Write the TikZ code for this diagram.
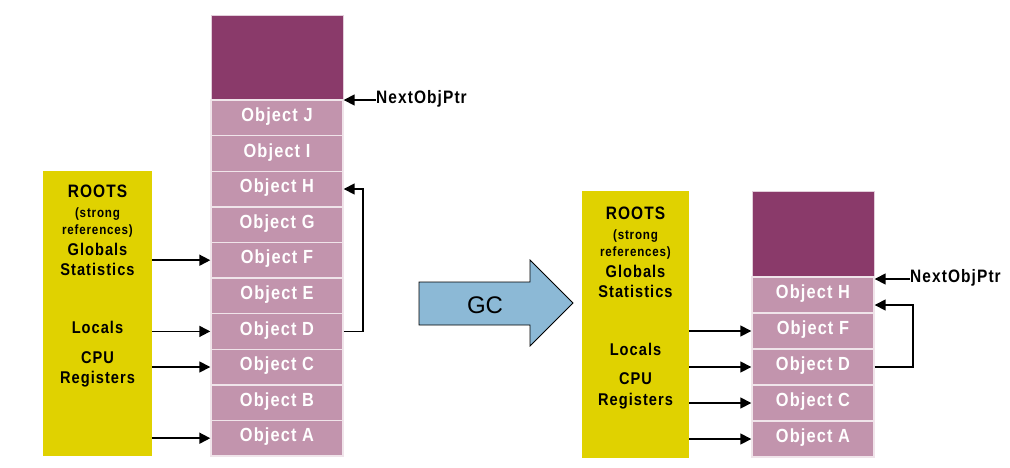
\documentclass[tikz,border=0pt]{standalone}
\usepackage{fontspec}
\setmainfont{Liberation Sans}
\newfontfamily\condb{Liberation Sans}[FakeStretch=0.86, LetterSpace=6]
\usetikzlibrary{arrows.meta}
\definecolor{rootyellow}{HTML}{E0D200}
\definecolor{heapdark}{HTML}{8A3A6A}
\definecolor{heaplight}{HTML}{C294AD}
\definecolor{gcblue}{HTML}{8CB9D6}
\tikzset{
  cell/.style={draw=white!75!heaplight, line width=1.4pt, fill=heaplight, text=white,
    minimum width=132pt, minimum height=35.6pt, inner sep=0pt,
    font=\condb\bfseries\fontsize{19}{21}\selectfont, text height=0.72em, text depth=0pt},
  rcell/.style={cell, minimum width=122pt, minimum height=36pt},
  free/.style={draw=white!75!heapdark, line width=1pt, fill=heapdark, inner sep=0pt},
  roots/.style={fill=rootyellow, inner sep=0pt},
  rtxt/.style={font=\condb\bfseries\fontsize{17}{19}\selectfont, text height=0.72em, text depth=0pt, inner sep=0pt},
  rsmall/.style={font=\condb\bfseries\fontsize{13.5}{15}\selectfont, text height=0.72em, text depth=0pt, inner sep=0pt},
  ptr/.style={font=\condb\bfseries\fontsize{18}{20}\selectfont, text height=0.72em, text depth=0pt, inner sep=0pt},
  arr/.style={-{Triangle[length=11pt,width=11pt]}, line width=1.6pt, black},
}
\begin{document}
\begin{tikzpicture}[x=1pt,y=-1pt]
\useasboundingbox (0,0) rectangle (1010,467);
\fill[white] (0,0) rectangle (1010,467);

% ---------- left side ----------
\node[roots, minimum width=109pt, minimum height=285pt] (LR) at (97.5,313.5) {};
\node[rtxt] (LRt) at (97.5,194) {\fontsize{18}{20}\selectfont ROOTS};
\node[rsmall] (LRs1) at (97.5,214) {(strong};
\node[rsmall] (LRs2) at (97.5,231) {references)};
\node[rtxt] (LRg) at (97.5,252) {Globals};
\node[rtxt] (LRst) at (97.5,272) {Statistics};
\node[rtxt] (LRl) at (97.5,330) {Locals};
\node[rtxt] (LRc) at (97.5,360) {CPU};
\node[rtxt] (LRr) at (97.5,380) {Registers};

\node[free, minimum width=132pt, minimum height=85pt] (LTop) at (277,57.5) {};
\node[cell] (LJ) at (277,117.8) {Object J};
\node[cell] (LI) at (277,153.4) {Object I};
\node[cell] (LH) at (277,189.0) {Object H};
\node[cell] (LG) at (277,224.6) {Object G};
\node[cell] (LF) at (277,260.2) {Object F};
\node[cell] (LE) at (277,295.8) {Object E};
\node[cell] (LD) at (277,331.4) {Object D};
\node[cell] (LC) at (277,367.0) {Object C};
\node[cell] (LB) at (277,402.6) {Object B};
\node[cell] (LA) at (277,438.2) {Object A};

\draw[arr] (LF.west -| LR.east) -- (LF.west);
\draw[arr] (LD.west -| LR.east) -- (LD.west);
\draw[arr] (LC.west -| LR.east) -- (LC.west);
\draw[arr] (LA.west -| LR.east) -- (LA.west);

\node[ptr, anchor=west] (LP) at (376,100) {NextObjPtr};
\draw[arr] (LP.west) -- (LP.west -| LJ.north east);
\draw[arr] (LD.east) -- ++(19,0) |- (LH.east);

% ---------- GC arrow ----------
\draw[fill=gcblue, line width=0.8pt] (419,282) -- (530,282) -- (530,260) -- (573,303)
  -- (530,346) -- (530,325) -- (419,325) -- cycle;
\node[font=\fontsize{24}{26}\selectfont, inner sep=0pt] (GC) at (485,305) {GC};

% ---------- right side ----------
\node[roots, minimum width=107pt, minimum height=267pt] (RR) at (635.5,324.5) {};
\node[rtxt] (RRt) at (635.5,216) {\fontsize{18}{20}\selectfont ROOTS};
\node[rsmall] (RRs1) at (635.5,236) {(strong};
\node[rsmall] (RRs2) at (635.5,253) {references)};
\node[rtxt] (RRg) at (635.5,274) {Globals};
\node[rtxt] (RRst) at (635.5,294) {Statistics};
\node[rtxt] (RRl) at (635.5,352) {Locals};
\node[rtxt] (RRc) at (635.5,381) {CPU};
\node[rtxt] (RRr) at (635.5,402) {Registers};

\node[free, minimum width=122pt, minimum height=86pt] (RTop) at (813,234) {};
\node[rcell] (RH) at (813,295) {Object H};
\node[rcell] (RF) at (813,331) {Object F};
\node[rcell] (RD) at (813,367) {Object D};
\node[rcell] (RC) at (813,403) {Object C};
\node[rcell] (RA) at (813,439) {Object A};

\draw[arr] (RF.west -| RR.east) -- (RF.west);
\draw[arr] (RD.west -| RR.east) -- (RD.west);
\draw[arr] (RC.west -| RR.east) -- (RC.west);
\draw[arr] (RA.west -| RR.east) -- (RA.west);

\node[ptr, anchor=west] (RP) at (910,279) {NextObjPtr};
\draw[arr] (RP.west) -- (RP.west -| RH.north east);
\draw[arr] (RD.east) -- ++(38,0) |- ([yshift=-10pt]RH.east);
\end{tikzpicture}
\end{document}
